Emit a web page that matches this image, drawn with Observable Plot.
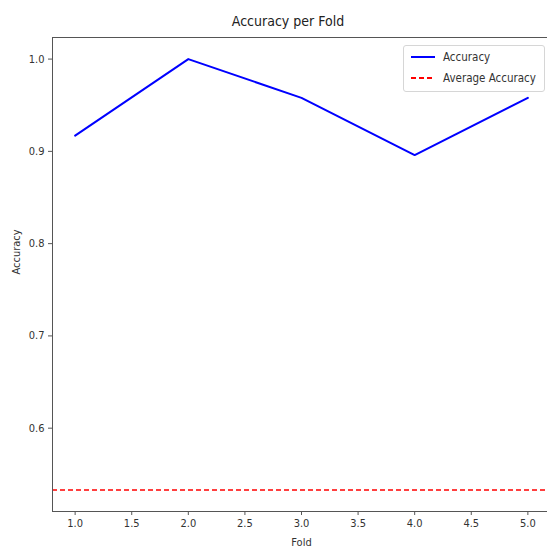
<!DOCTYPE html>
<html>
<head>
<meta charset="utf-8">
<script src="https://cdn.jsdelivr.net/npm/d3@7"></script>
<script src="https://cdn.jsdelivr.net/npm/@observablehq/plot@0.6"></script>
<style>
  html, body { margin: 0; padding: 0; background: #fff; overflow: hidden; width: 547px; height: 552px; }
  body { position: relative; font-family: "DejaVu Sans", sans-serif; font-stretch: condensed; color: #333; }
  #title { position: absolute; left: 0; width: 576px; top: 13px; text-align: center; font-size: 14px; color: #222; }
  #chart { position: absolute; left: 0; top: 30px; width: 560px; }
  #chart svg { max-width: none !important; }
  #legend { position: absolute; left: 403px; top: 45px; width: 140px; height: 45px; border: 1px solid #d6d6d6; border-radius: 3px; background: rgba(255,255,255,0.85); font-size: 11.5px; color: #333; }
  .item { position: absolute; left: 7px; height: 14px; display: flex; align-items: center; }
  .item svg { margin-right: 8px; }
</style>
</head>
<body>
<div id="title">Accuracy per Fold</div>
<div id="chart"></div>
<div id="legend"></div>
<script>
const folds = [1, 2, 3, 4, 5];
const accuracy = [0.917, 1.0, 0.958, 0.896, 0.958];
const averageAccuracy = 0.533;
const xTicks = [1.0, 1.5, 2.0, 2.5, 3.0, 3.5, 4.0, 4.5, 5.0];
const yTicks = [0.6, 0.7, 0.8, 0.9, 1.0];
const seriesNames = ["Accuracy", "Average Accuracy"];
const seriesColors = ["blue", "red"];

const data = folds.map((f, i) => ({fold: f, accuracy: accuracy[i]}));
const fmt = d3.format(".1f");

const chart = Plot.plot({
  width: 560,
  height: 522,
  marginTop: 7,
  marginLeft: 52,
  marginRight: 10,
  marginBottom: 41,
  style: {fontFamily: "DejaVu Sans, sans-serif", fontSize: "11px", color: "#333", fontStretch: "condensed", overflow: "visible", background: "transparent", maxWidth: "none"},
  x: {domain: [0.8, 5.2]},
  y: {domain: [0.5097, 1.0234]},
  marks: [
    Plot.ruleY([averageAccuracy], {stroke: "red", strokeWidth: 1.6, strokeDasharray: "5,3"}),
    Plot.line(data, {x: "fold", y: "accuracy", stroke: "blue", strokeWidth: 2}),
    Plot.frame({stroke: "#555", strokeWidth: 1}),
    Plot.axisX({ticks: xTicks, tickFormat: fmt, tickSize: 4, tickPadding: 4, label: null, stroke: "#555"}),
    Plot.axisY({ticks: yTicks, tickFormat: fmt, tickSize: 4, tickPadding: 4, label: null, stroke: "#555"}),
    Plot.text(["Fold"], {frameAnchor: "bottom", dy: 34, text: d => d, fontSize: 11, fill: "#333"}),
    Plot.text(["Accuracy"], {frameAnchor: "left", dx: -36, rotate: -90, text: d => d, fontSize: 11, fill: "#333"})
  ]
});
document.getElementById("chart").appendChild(chart);

const legend = document.getElementById("legend");
seriesNames.forEach((name, i) => {
  const item = document.createElement("div");
  item.className = "item";
  item.style.top = (4 + i * 21) + "px";
  const dash = i === 1 ? 'stroke-dasharray="5,3"' : "";
  item.innerHTML = `<svg width="24" height="6"><line x1="0" y1="3" x2="24" y2="3" stroke="${seriesColors[i]}" stroke-width="2" ${dash}></line></svg><span>${name}</span>`;
  legend.appendChild(item);
});
</script>
</body>
</html>
